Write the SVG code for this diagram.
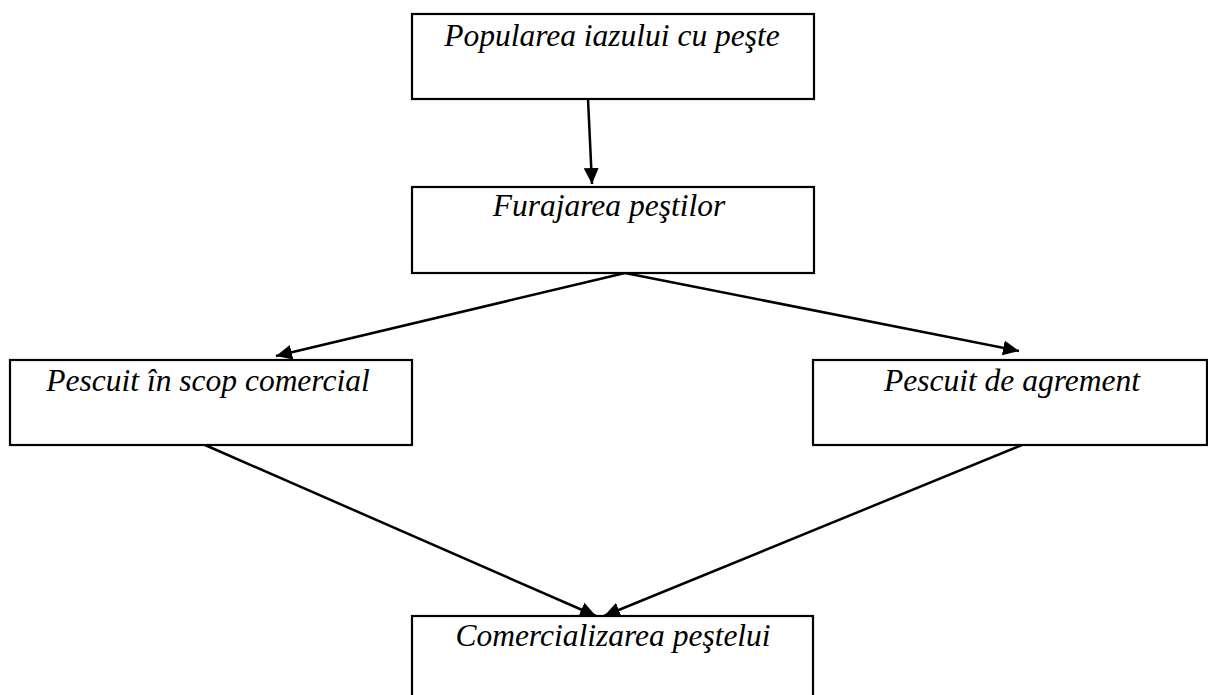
<svg xmlns="http://www.w3.org/2000/svg" width="1208" height="695" viewBox="0 0 1208 695">
<style>
.box{fill:#fff;stroke:#000;stroke-width:2.2}
.lbl{font-family:"Liberation Serif","Times New Roman",serif;font-style:italic;font-size:31.5px;fill:#000;text-anchor:middle}
.ln{stroke:#000;stroke-width:2.5;fill:none}
</style>
<defs>
<marker id="ahb" viewBox="0 0 16 15" refX="16" refY="7.5" markerWidth="16" markerHeight="15" orient="auto" markerUnits="userSpaceOnUse">
<path d="M0,0 L16,7.5 L0,15 Z" fill="#000"/>
</marker>
</defs>
<rect width="1208" height="695" fill="#fff"/>
<g id="connectors">
<line class="ln" x1="588" y1="99" x2="592" y2="184" marker-end="url(#ahb)"/>
<line class="ln" x1="625" y1="273" x2="276" y2="356" marker-end="url(#ahb)"/>
<line class="ln" x1="625" y1="273" x2="1019" y2="351" marker-end="url(#ahb)"/>
<line class="ln" x1="205" y1="445" x2="596" y2="616" marker-end="url(#ahb)"/>
<line class="ln" x1="1022" y1="445" x2="604" y2="616" marker-end="url(#ahb)"/>
</g>
<g id="n1"><rect class="box" x="412" y="14" width="402" height="85"/><text class="lbl" x="612" y="46">Popularea iazului cu peşte</text></g>
<g id="n2"><rect class="box" x="412" y="187" width="402" height="86"/><text class="lbl" x="609" y="216">Furajarea peştilor</text></g>
<g id="n3"><rect class="box" x="10" y="360" width="402" height="85"/><text class="lbl" x="208" y="391">Pescuit în scop comercial</text></g>
<g id="n4"><rect class="box" x="813" y="360" width="394" height="85"/><text class="lbl" x="1012" y="391">Pescuit de agrement</text></g>
<g id="n5"><rect class="box" x="412" y="616" width="401" height="90"/><text class="lbl" x="613" y="646">Comercializarea peştelui</text></g>
</svg>
